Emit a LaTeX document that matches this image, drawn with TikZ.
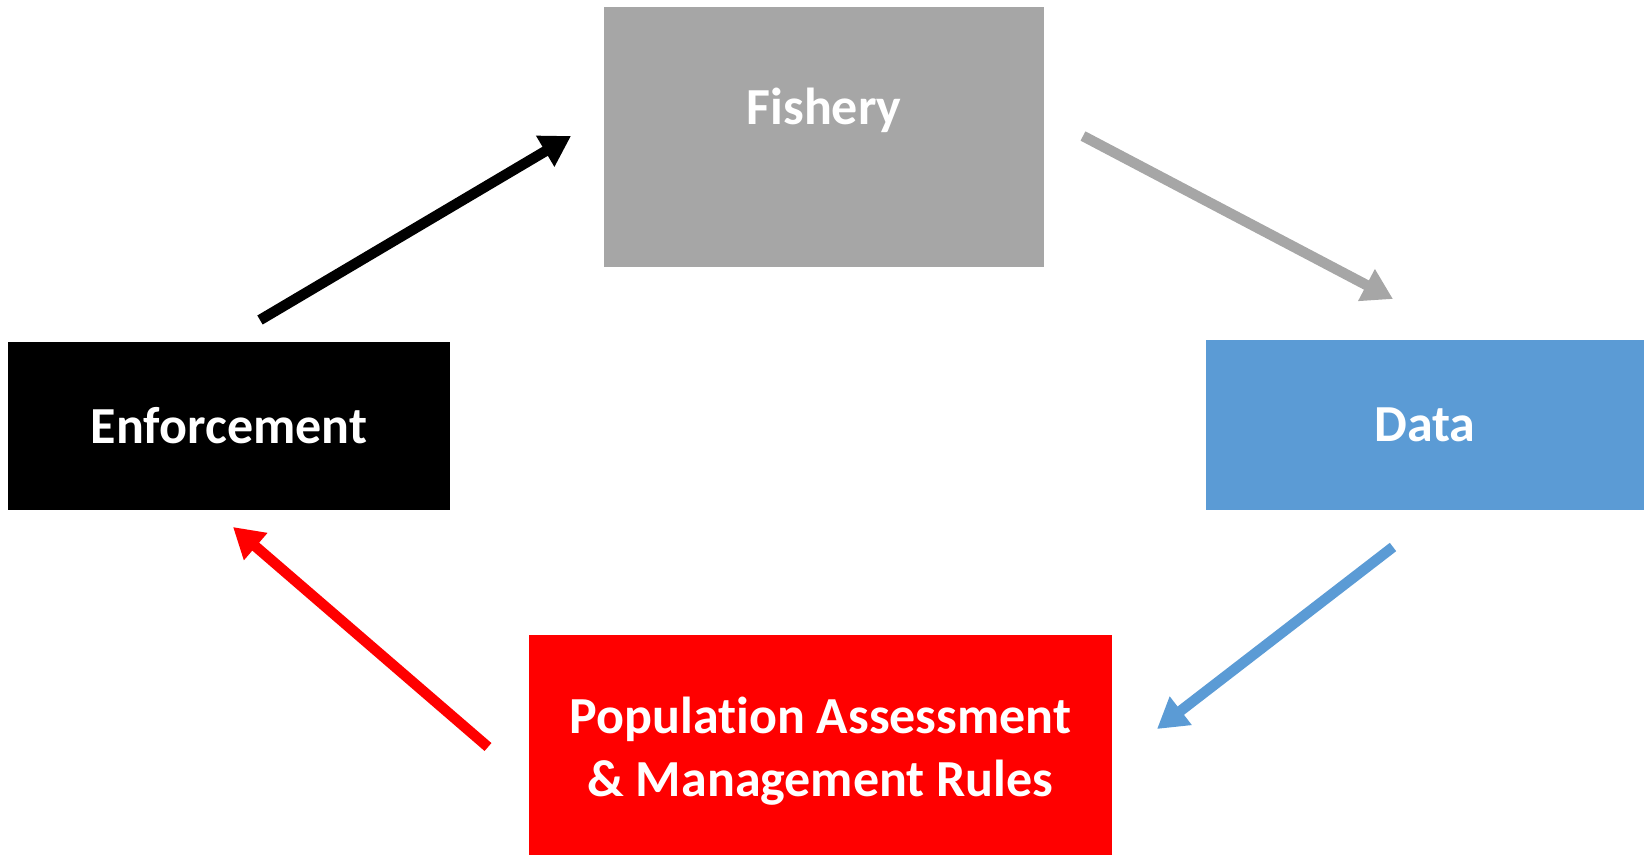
\documentclass[tikz,border=0pt]{standalone}
\usepackage{fontspec}
\setmainfont{Carlito}[Ligatures=NoCommon]
\usetikzlibrary{arrows.meta}
\definecolor{fishgray}{HTML}{A6A6A6}
\definecolor{datablue}{HTML}{5B9BD5}
\definecolor{popred}{HTML}{FF0000}
\tikzset{
  boxfont/.style={text=white, font=\fontsize{52}{63}\selectfont\bfseries, align=center},
  box/.style={rectangle, inner sep=0pt, boxfont},
  flow/.style={line width=10.5pt, -{Triangle[length=30pt,width=34pt]}},
}
\begin{document}
\begin{tikzpicture}[x=1pt,y=-1pt]
\useasboundingbox (0,0) rectangle (1644,855);
\node[box, fill=fishgray, minimum width=440pt, text height=117pt, text depth=143pt, anchor=north] (fishery) at (824,7) {Fishery};
\node[box, fill=black, minimum width=442pt, minimum height=168pt] (enf) at (229,426) {Enforcement};
\node[box, fill=datablue, minimum width=438pt, minimum height=170pt] (data) at (1425,425) {Data};
\node[box, fill=popred, minimum width=583pt, minimum height=220pt,
  label={[boxfont, yshift=-6pt]center:Population Assessment\\\& Management Rules}] (pop) at (820.5,745) {};
\coordinate (a1s) at (260,320); \coordinate (a1e) at (571,136);
\coordinate (a2s) at (1083,136); \coordinate (a2e) at (1393,299);
\coordinate (a3s) at (1393,547); \coordinate (a3e) at (1157,729);
\coordinate (a4s) at (488,747); \coordinate (a4e) at (233,527);
\draw[flow, draw=black, fill=black] (a1s) -- (a1e);
\draw[flow, draw=fishgray, fill=fishgray] (a2s) -- (a2e);
\draw[flow, draw=datablue, fill=datablue] (a3s) -- (a3e);
\draw[flow, draw=popred, fill=popred] (a4s) -- (a4e);
\end{tikzpicture}
\end{document}
